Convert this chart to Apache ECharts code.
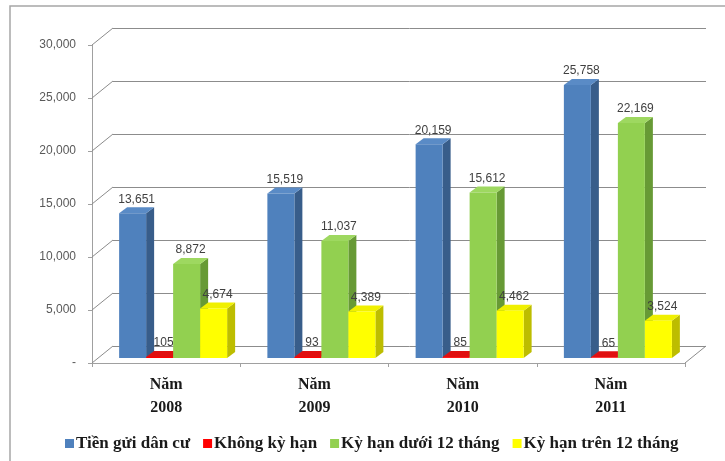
<!DOCTYPE html>
<html><head><meta charset="utf-8">
<script src="https://cdn.jsdelivr.net/npm/echarts@6/dist/echarts.min.js"></script>
<style>html,body{margin:0;padding:0;background:#fff}#c{width:725px;height:461px}</style>
</head><body><div id="c"></div>
<script>
const categories = ['Năm\n2008','Năm\n2009','Năm\n2010','Năm\n2011'];
const seriesNames = ['Tiền gửi dân cư','Không kỳ hạn','Kỳ hạn dưới 12 tháng','Kỳ hạn trên 12 tháng'];
const tienGuiDanCu = [13651,15519,20159,25758];
const khongKyHan = [105,93,85,65];
const kyHanDuoi12 = [8872,11037,15612,22169];
const kyHanTren12 = [4674,4389,4462,3524];
const yTicks = [0,5000,10000,15000,20000,25000,30000];

const frontColors = ['#4F81BD','#FF0000','#92D050','#FFFF00'];
const sideColors = ['#385D8A','#B80000','#679A35','#BDBD00'];
const topColors = ['#5A8BC6','#E01010','#9ED860','#F0F000'];

const WALL_DX = 21, WALL_DY = -17;
const BAR_OFF_X = 7, BAR_OFF_Y = -5;
const BAR_DX = 8, BAR_DY = -6;
const BAR_W = 27;

function fmt(v){ return v===0 ? '-' : v.toLocaleString('en-US'); }

function barRender(si){
  return function(params, api){
    const ci = api.value(0), v = api.value(1);
    const c = api.coord([ci, v]); const c0 = api.coord([ci, 0]);
    const x0 = c[0] - 2*BAR_W + si*BAR_W + BAR_OFF_X;
    const yTop = c[1] + BAR_OFF_Y, yBot = c0[1] + BAR_OFF_Y;
    const x1 = x0 + BAR_W;
    return {type:'group', children:[
      {type:'polygon', shape:{points:[[x1,yTop],[x1+BAR_DX,yTop+BAR_DY],[x1+BAR_DX,yBot+BAR_DY],[x1,yBot]]}, style:{fill:sideColors[si]}},
      {type:'polygon', shape:{points:[[x0,yTop],[x1,yTop],[x1+BAR_DX,yTop+BAR_DY],[x0+BAR_DX,yTop+BAR_DY]]}, style:{fill:topColors[si]}},
      {type:'rect', shape:{x:x0,y:yTop,width:BAR_W,height:Math.max(yBot-yTop,0)}, style:{fill:frontColors[si]}},
      {type:'text', x:x0+(BAR_W+BAR_DX)/2, y:yTop+BAR_DY-2, style:{text:fmt(v), align:'center', verticalAlign:'bottom', fill:'#404040', font:'12px "Liberation Sans"'}}
    ]};
  };
}

function wallRender(params, api){
  const v = api.value(1);
  const y = api.coord([0, v])[1];
  const cs = params.coordSys;
  const ls = {stroke:'#8c8c8c', lineWidth:1};
  const children = [{type:'line', shape:{x1:cs.x, y1:y, x2:cs.x+WALL_DX, y2:y+WALL_DY}, style:ls}];
  if (v === 0) {
    children.push({type:'line', shape:{x1:cs.x+cs.width, y1:y, x2:cs.x+cs.width+WALL_DX, y2:y+WALL_DY}, style:ls});
  }
  return {type:'group', children};
}

const valueSets = [tienGuiDanCu, khongKyHan, kyHanDuoi12, kyHanTren12];

const chart = echarts.init(document.getElementById('c'), null, {renderer:'canvas'});
chart.setOption({
  animation:false,
  backgroundColor:'#fff',
  color: frontColors,
  graphic:[{type:'rect', shape:{x:10,y:6,width:800,height:500}, style:{fill:'none', stroke:'#a6a6a6', lineWidth:1.5}, z:-1}],
  legend:{
    data: seriesNames, top:430, left:60,
    icon:'rect', itemWidth:9, itemHeight:9, itemGap:13,
    textStyle:{fontFamily:'Liberation Serif', fontWeight:'bold', fontSize:17, color:'#1a1a1a', padding:[0,0,0,-3]}
  },
  grid:[
    {left:92, right:40, top:45, bottom:98},
    {left:92+WALL_DX, right:40-WALL_DX, top:45+WALL_DY, bottom:98-WALL_DY}
  ],
  xAxis:[
    {type:'category', gridIndex:0, data:categories,
     axisLine:{lineStyle:{color:'#a0a0a0'}},
     axisTick:{show:true, length:4, lineStyle:{color:'#a0a0a0'}},
     axisLabel:{fontFamily:'Liberation Serif', fontWeight:'bold', fontSize:16, color:'#1a1a1a', lineHeight:23, margin:10},
     splitLine:{show:false}},
    {type:'value', gridIndex:1, show:false, min:0, max:1}
  ],
  yAxis:[
    {type:'value', gridIndex:0, min:0, max:30000, interval:5000,
     axisLine:{show:true, lineStyle:{color:'#a0a0a0'}},
     axisTick:{show:true, length:4, lineStyle:{color:'#a0a0a0'}},
     axisLabel:{formatter:fmt, fontFamily:'Liberation Sans', fontSize:12, color:'#595959', margin:16},
     splitLine:{show:false}},
    {type:'value', gridIndex:1, min:0, max:30000, interval:5000,
     axisLine:{show:false}, axisTick:{show:false}, axisLabel:{show:false},
     splitLine:{show:true, lineStyle:{color:'#8c8c8c', width:1}}}
  ],
  series: [
    {type:'custom', name:'walls', xAxisIndex:0, yAxisIndex:0, renderItem:wallRender,
     data: yTicks.map(v=>[0,v]), silent:true, z:1}
  ].concat(valueSets.map((vals, si)=>({
    type:'custom', name:seriesNames[si], xAxisIndex:0, yAxisIndex:0,
    itemStyle:{color:frontColors[si]},
    renderItem: barRender(si),
    encode:{x:0, y:1},
    data: vals.map((v,i)=>[i,v]), z:2+si
  })))
});
</script></body></html>
